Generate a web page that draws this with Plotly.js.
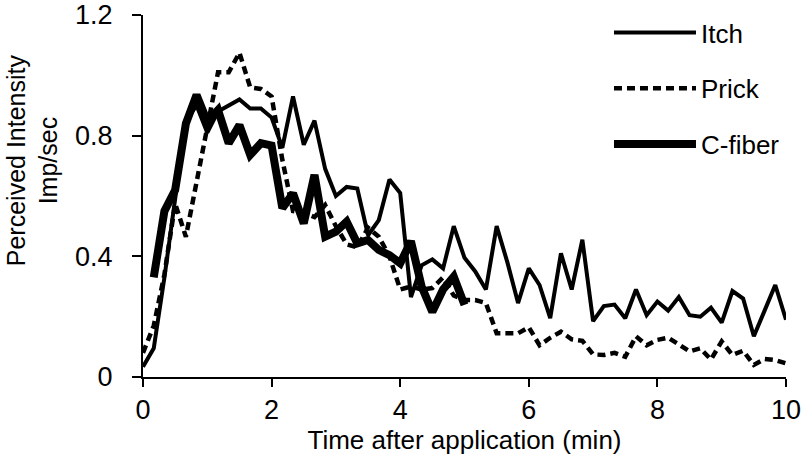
<!DOCTYPE html>
<html>
<head>
<meta charset="utf-8">
<script src="https://cdn.plot.ly/plotly-3.0.1.min.js"></script>
<style>html,body{margin:0;padding:0;background:#fff;}#chart{width:802px;height:471px;}</style>
</head>
<body>
<div id="chart"></div>
<script>
// Time grid (min), one sample every 10 s
var timeMin = [0, 0.167, 0.333, 0.5, 0.667, 0.833, 1, 1.167, 1.333, 1.5, 1.667, 1.833, 2, 2.167, 2.333, 2.5, 2.667, 2.833, 3, 3.167, 3.333, 3.5, 3.667, 3.833, 4, 4.167, 4.333, 4.5, 4.667, 4.833, 5, 5.167, 5.333, 5.5, 5.667, 5.833, 6, 6.167, 6.333, 6.5, 6.667, 6.833, 7, 7.167, 7.333, 7.5, 7.667, 7.833, 8, 8.167, 8.333, 8.5, 8.667, 8.833, 9, 9.167, 9.333, 9.5, 9.667, 9.833, 10];

var itch = [0.034, 0.095, 0.33, 0.60, 0.85, 0.90, 0.81, 0.88, 0.90, 0.92, 0.89, 0.89, 0.86, 0.76, 0.93, 0.77, 0.85, 0.69, 0.60, 0.63, 0.625, 0.47, 0.52, 0.655, 0.61, 0.265, 0.37, 0.39, 0.36, 0.50, 0.395, 0.35, 0.29, 0.50, 0.38, 0.245, 0.36, 0.305, 0.195, 0.41, 0.29, 0.455, 0.185, 0.235, 0.24, 0.195, 0.29, 0.205, 0.25, 0.22, 0.265, 0.205, 0.20, 0.23, 0.18, 0.285, 0.26, 0.135, 0.22, 0.305, 0.19];

var prick = [0.08, 0.17, 0.34, 0.575, 0.465, 0.65, 0.83, 1.01, 1.01, 1.075, 0.96, 0.955, 0.93, 0.72, 0.55, 0.545, 0.53, 0.57, 0.50, 0.44, 0.43, 0.495, 0.465, 0.40, 0.29, 0.30, 0.29, 0.295, 0.33, 0.27, 0.255, 0.255, 0.245, 0.145, 0.145, 0.145, 0.165, 0.105, 0.13, 0.15, 0.125, 0.12, 0.075, 0.073, 0.08, 0.067, 0.135, 0.105, 0.123, 0.13, 0.108, 0.085, 0.095, 0.058, 0.118, 0.073, 0.087, 0.04, 0.06, 0.056, 0.045];

var cTime = [0.167, 0.333, 0.5, 0.667, 0.833, 1, 1.167, 1.333, 1.5, 1.667, 1.833, 2, 2.167, 2.333, 2.5, 2.667, 2.833, 3, 3.167, 3.333, 3.5, 3.667, 3.833, 4, 4.167, 4.333, 4.5, 4.667, 4.833, 5];
var cFiber = [0.33, 0.55, 0.62, 0.84, 0.935, 0.846, 0.885, 0.775, 0.835, 0.736, 0.775, 0.767, 0.56, 0.609, 0.509, 0.67, 0.465, 0.482, 0.515, 0.443, 0.454, 0.421, 0.404, 0.377, 0.45, 0.30, 0.216, 0.29, 0.333, 0.239];

var xTicks = [0, 2, 4, 6, 8, 10];
var yTicks = [0, 0.4, 0.8, 1.2];
var yTickText = ['0', '0.4', '0.8', '1.2'];

var FONT = 'Arial, "Liberation Sans", sans-serif';

var traces = [
  {x: timeMin, y: itch, name: 'Itch', type: 'scatter', mode: 'lines', legendgroup: 'a',
   line: {color: '#000', width: 4}},
  {x: timeMin, y: prick, name: 'Prick', type: 'scatter', mode: 'lines', legendgroup: 'b',
   line: {color: '#000', width: 4.5, dash: '8px,5px'}},
  {x: cTime, y: cFiber, name: 'C-fiber', type: 'scatter', mode: 'lines', legendgroup: 'c',
   line: {color: '#000', width: 8}}
];

var layout = {
  width: 802, height: 471,
  margin: {l: 143, r: 16, t: 15, b: 94, autoexpand: false},
  paper_bgcolor: '#fff', plot_bgcolor: '#fff',
  font: {family: FONT, color: '#000', size: 26},
  showlegend: true,
  legend: {x: 0.7247, y: 1.0166, xanchor: 'left', yanchor: 'top', font: {size: 26, family: FONT},
           itemwidth: 82, tracegroupgap: 19, bgcolor: 'rgba(0,0,0,0)'},
  xaxis: {range: [0, 10], tickvals: xTicks, ticks: 'outside', ticklen: 8, tickwidth: 2, tickcolor: '#000',
          showline: true, linewidth: 2, linecolor: '#000', showgrid: false, zeroline: false,
          tickfont: {size: 27, family: FONT}, ticklabelstandoff: 0,
          title: {text: 'Time after application (min)', font: {size: 26, family: FONT}, standoff: 6}},
  yaxis: {range: [0, 1.2], tickvals: yTicks, ticktext: yTickText, ticks: 'outside', ticklen: 9, tickwidth: 2, tickcolor: '#000',
          showline: true, linewidth: 2, linecolor: '#000', showgrid: false, zeroline: false,
          tickfont: {size: 27, family: FONT}, ticklabelstandoff: 14},
  annotations: [{
    text: 'Perceived Intensity<br>Imp/sec', textangle: -90, xref: 'paper', yref: 'paper',
    x: -0.172, y: 0.60, xanchor: 'center', yanchor: 'middle', showarrow: false,
    font: {size: 25, family: FONT}
  }]
};

Plotly.newPlot('chart', traces, layout, {displayModeBar: false, staticPlot: true});
</script>
</body>
</html>
